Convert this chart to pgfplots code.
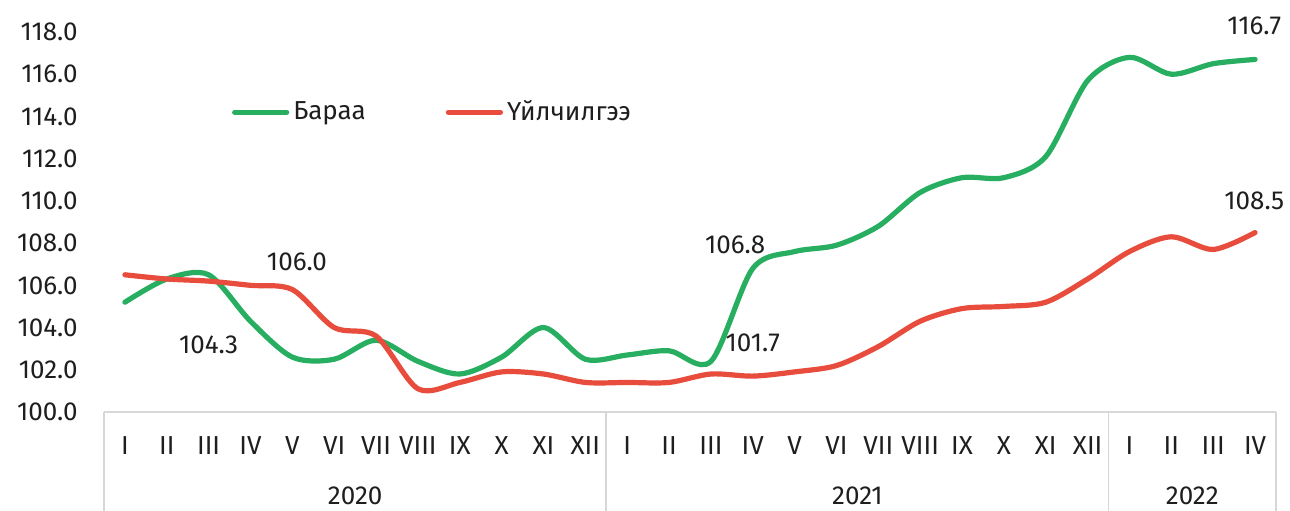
\documentclass[border=0pt]{standalone}
\usepackage{fontspec}
\setmainfont{Fira Sans}
\usepackage{pgfplots}
\pgfplotsset{compat=1.18}
\definecolor{gr}{RGB}{39,174,96}
\definecolor{rd}{RGB}{231,76,60}
\definecolor{tx}{RGB}{30,30,30}
\definecolor{gl}{RGB}{215,215,215}

\pgfplotstableread{
x y
0 105.2
1 106.3
2 106.5
3 104.3
4 102.6
5 102.5
6 103.4
7 102.4
8 101.8
9 102.6
10 104.0
11 102.5
12 102.7
13 102.9
14 102.4
15 106.8
16 107.6
17 107.9
18 108.8
19 110.4
20 111.1
21 111.1
22 112.1
23 115.7
24 116.8
25 116.0
26 116.5
27 116.7
}\baraa

\pgfplotstableread{
x y
0 106.5
1 106.3
2 106.2
3 106.0
4 105.8
5 104.0
6 103.6
7 101.1
8 101.4
9 101.9
10 101.8
11 101.4
12 101.4
13 101.4
14 101.8
15 101.7
16 101.9
17 102.2
18 103.1
19 104.3
20 104.9
21 105.0
22 105.2
23 106.3
24 107.6
25 108.3
26 107.7
27 108.5
}\uilchilgee

\begin{document}
\begin{tikzpicture}[font=\fontsize{13}{15}\selectfont, text=tx]
\begin{axis}[
  scale only axis, width=586pt, height=190pt,
  at={(0,0)}, anchor=south west,
  xmin=-0.5, xmax=27.5, ymin=100, ymax=118,
  clip=false,
  axis line style={draw=none},
  tick style={draw=none},
  ytick={100,102,...,118},
  yticklabel style={/pgf/number format/fixed, /pgf/number format/fixed zerofill,
    /pgf/number format/precision=1, /pgf/number format/assume math mode=true,
    anchor=east, inner sep=0pt, xshift=-13pt, text=tx},
  xtick={0,...,27},
  xticklabels={I,II,III,IV,V,VI,VII,VIII,IX,X,XI,XII,I,II,III,IV,V,VI,VII,VIII,IX,X,XI,XII,I,II,III,IV},
  xticklabel style={anchor=base, inner sep=0pt, yshift=-21pt, text=tx},
  legend columns=2,
  legend style={at={(axis cs:2.55,114.2)}, anchor=west, draw=none, fill=none,
    inner sep=0pt, font=\fontsize{13}{15}\selectfont,
    /tikz/every even column/.append style={column sep=38pt}},
  legend image code/.code={\draw[#1, line cap=round] (0pt,0pt) -- (26pt,0pt);},
]
\draw[gl, line width=0.8pt] (axis cs:-0.5,100) -- (axis cs:27.5,100);
\draw[gl, line width=0.8pt] (axis cs:-0.5,100) -- ([yshift=-60pt]axis cs:-0.5,100);
\draw[gl, line width=0.8pt] (axis cs:11.5,100) -- ([yshift=-60pt]axis cs:11.5,100);
\draw[gl, line width=0.8pt] (axis cs:23.5,100) -- ([yshift=-60pt]axis cs:23.5,100);
\draw[gl, line width=0.8pt] (axis cs:27.5,100) -- ([yshift=-60pt]axis cs:27.5,100);

\addplot[gr, line width=2.6pt, smooth, line cap=round, no markers] table[x=x,y=y]{\baraa};
\addlegendentry{Бараа}
\addplot[rd, line width=2.6pt, smooth, line cap=round, no markers] table[x=x,y=y]{\uilchilgee};
\addlegendentry{Үйлчилгээ}

\node[anchor=base, inner sep=0pt] at ([yshift=-46pt]axis cs:5.5,100) {2020};
\node[anchor=base, inner sep=0pt] at ([yshift=-46pt]axis cs:17.5,100) {2021};
\node[anchor=base, inner sep=0pt] at ([yshift=-46pt]axis cs:25.5,100) {2022};

\node[inner sep=0pt] at (axis cs:2.0,103.17) {104.3};
\node[inner sep=0pt] at (axis cs:4.11,107.1) {106.0};
\node[inner sep=0pt] at (axis cs:14.58,107.9) {106.8};
\node[inner sep=0pt] at (axis cs:15.0,103.27) {101.7};
\node[inner sep=0pt] at (axis cs:26.98,118.29) {116.7};
\node[inner sep=0pt] at (axis cs:26.98,110.0) {108.5};
\end{axis}
\pgfresetboundingbox
\path[use as bounding box] (-52pt,-49pt) rectangle (593pt,206pt);
\end{tikzpicture}
\end{document}
